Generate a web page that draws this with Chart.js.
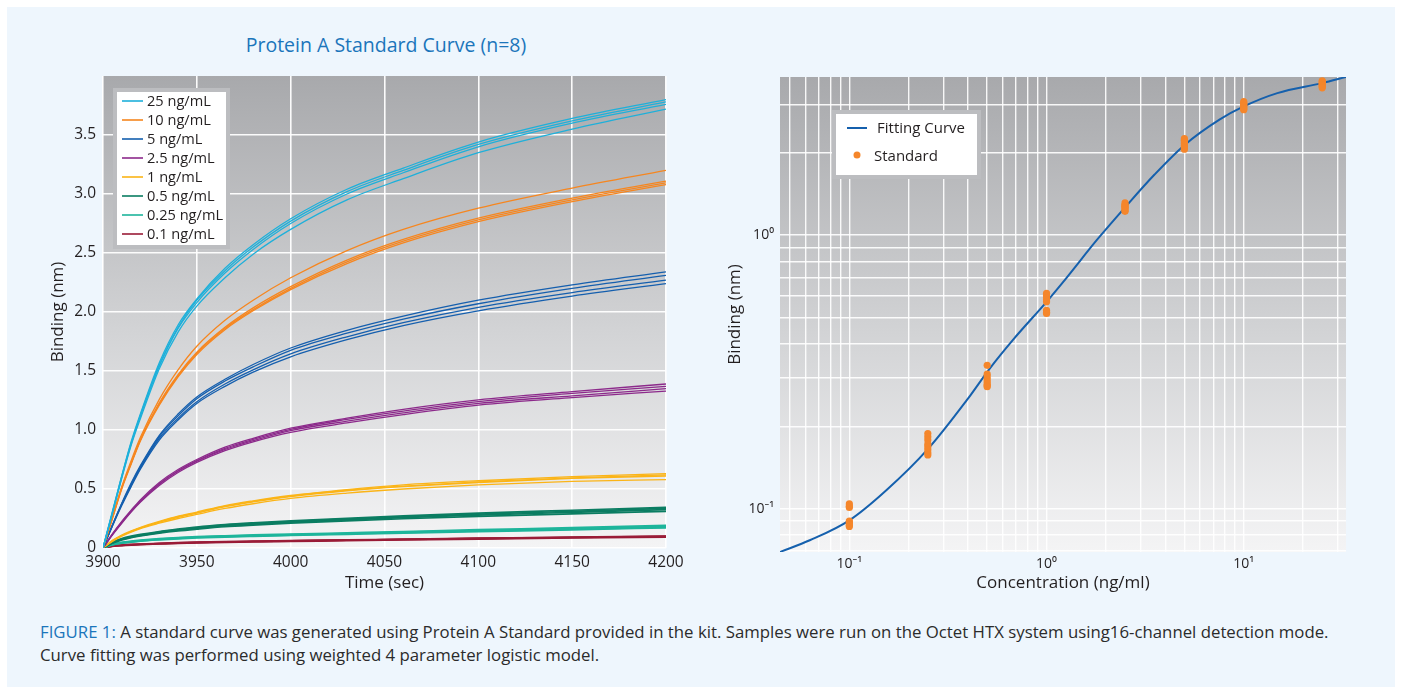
<!DOCTYPE html>
<html>
<head>
<meta charset="utf-8">
<script src="https://cdn.jsdelivr.net/npm/chart.js@4.4.1/dist/chart.umd.min.js"></script>
<style>
  html, body { margin: 0; padding: 0; background: #ffffff; }
  body { width: 1402px; height: 694px; position: relative; overflow: hidden; font-family: "Open Sans", "Noto Sans", sans-serif; }
  #panel { position: absolute; left: 7px; top: 7px; width: 1388px; height: 680px; background: #eef6fd; }
  canvas { position: absolute; top: 0; }
  #c1 { left: 0; }
  #c2 { left: 700px; }
  #title { position: absolute; left: 136px; width: 500px; top: 31px; text-align: center; font-size: 19.5px; line-height: 27px; color: #1b75bb; white-space: nowrap; }
  #caption { position: absolute; left: 40px; top: 620px; font-size: 16.8px; line-height: 23px; color: #2b2b2b; white-space: nowrap; }
  #caption span { color: #1b75bb; }
</style>
</head>
<body>
<div id="panel"></div>
<div id="title">Protein A Standard Curve (n=8)</div>
<canvas id="c1" width="700" height="610"></canvas>
<canvas id="c2" width="702" height="610"></canvas>
<div id="caption"><span>FIGURE 1:</span> A standard curve was generated using Protein A Standard provided in the kit. Samples were run on the Octet HTX system using16-channel detection mode.<br>Curve fitting was performed using weighted 4 parameter logistic model.</div>
<script>
// ---------------- Left chart data (binding vs time, 4 replicate traces per level) ----------------
const timePoints = [3900, 3905, 3910, 3915, 3920, 3930, 3940, 3950, 3965, 3980, 4000, 4030, 4060, 4100, 4150, 4200];
const levelLabels = ['25 ng/mL', '10 ng/mL', '5 ng/mL', '2.5 ng/mL', '1 ng/mL', '0.5 ng/mL', '0.25 ng/mL', '0.1 ng/mL'];
const levelColors = ['#1eb0da', '#f6861f', '#155fae', '#8c2a8b', '#fbb417', '#0b7d62', '#1eb59b', '#9a1c37'];

const reps25 = [
  [0, 0.31, 0.61, 0.90, 1.14, 1.57, 1.89, 2.11, 2.37, 2.57, 2.79, 3.04, 3.22, 3.44, 3.64, 3.80],
  [0, 0.30, 0.61, 0.89, 1.13, 1.55, 1.87, 2.10, 2.35, 2.55, 2.77, 3.02, 3.20, 3.42, 3.62, 3.78],
  [0, 0.30, 0.60, 0.88, 1.12, 1.54, 1.86, 2.08, 2.33, 2.53, 2.75, 3.00, 3.18, 3.40, 3.60, 3.76],
  [0, 0.29, 0.59, 0.87, 1.10, 1.52, 1.83, 2.05, 2.29, 2.49, 2.70, 2.95, 3.13, 3.35, 3.55, 3.72]
];
const reps10 = [
  [0, 0.26, 0.52, 0.74, 0.94, 1.26, 1.51, 1.71, 1.93, 2.10, 2.29, 2.52, 2.70, 2.88, 3.05, 3.20],
  [0, 0.26, 0.51, 0.72, 0.92, 1.23, 1.47, 1.66, 1.87, 2.035, 2.215, 2.44, 2.615, 2.795, 2.965, 3.11],
  [0, 0.25, 0.51, 0.72, 0.92, 1.22, 1.46, 1.65, 1.86, 2.02, 2.20, 2.425, 2.60, 2.78, 2.95, 3.095],
  [0, 0.25, 0.50, 0.71, 0.91, 1.21, 1.45, 1.64, 1.85, 2.01, 2.19, 2.41, 2.585, 2.765, 2.935, 3.08]
];
const reps5 = [
  [0, 0.195, 0.38, 0.55, 0.70, 0.955, 1.135, 1.28, 1.43, 1.555, 1.695, 1.845, 1.965, 2.10, 2.23, 2.34],
  [0, 0.19, 0.375, 0.54, 0.69, 0.945, 1.12, 1.265, 1.415, 1.535, 1.675, 1.82, 1.94, 2.07, 2.20, 2.31],
  [0, 0.19, 0.37, 0.53, 0.68, 0.93, 1.10, 1.24, 1.39, 1.51, 1.645, 1.79, 1.91, 2.04, 2.165, 2.27],
  [0, 0.185, 0.36, 0.52, 0.67, 0.915, 1.085, 1.225, 1.37, 1.49, 1.62, 1.765, 1.885, 2.01, 2.135, 2.24]
];
const reps2p5 = [
  [0, 0.12, 0.225, 0.32, 0.41, 0.555, 0.665, 0.75, 0.855, 0.93, 1.015, 1.10, 1.175, 1.255, 1.325, 1.39],
  [0, 0.115, 0.22, 0.315, 0.40, 0.545, 0.655, 0.74, 0.845, 0.92, 1.005, 1.09, 1.16, 1.24, 1.31, 1.37],
  [0, 0.115, 0.215, 0.31, 0.395, 0.54, 0.65, 0.735, 0.835, 0.91, 0.995, 1.075, 1.145, 1.225, 1.29, 1.35],
  [0, 0.11, 0.21, 0.305, 0.39, 0.53, 0.64, 0.725, 0.825, 0.90, 0.98, 1.06, 1.13, 1.21, 1.275, 1.33]
];
const reps1 = [
  [0, 0.065, 0.11, 0.145, 0.175, 0.225, 0.27, 0.305, 0.36, 0.40, 0.445, 0.495, 0.535, 0.57, 0.605, 0.63],
  [0, 0.06, 0.105, 0.14, 0.17, 0.22, 0.265, 0.30, 0.355, 0.395, 0.44, 0.49, 0.525, 0.56, 0.595, 0.62],
  [0, 0.06, 0.105, 0.14, 0.17, 0.22, 0.26, 0.295, 0.35, 0.39, 0.435, 0.485, 0.52, 0.555, 0.59, 0.61],
  [0, 0.055, 0.10, 0.135, 0.165, 0.21, 0.25, 0.285, 0.335, 0.375, 0.42, 0.465, 0.50, 0.535, 0.565, 0.58]
];
const reps0p5 = [
  [0, 0.05, 0.08, 0.10, 0.115, 0.14, 0.16, 0.178, 0.198, 0.213, 0.23, 0.252, 0.272, 0.295, 0.32, 0.345],
  [0, 0.045, 0.075, 0.095, 0.11, 0.135, 0.155, 0.172, 0.192, 0.207, 0.224, 0.245, 0.265, 0.287, 0.311, 0.335],
  [0, 0.045, 0.072, 0.092, 0.107, 0.131, 0.151, 0.167, 0.187, 0.202, 0.218, 0.238, 0.258, 0.279, 0.302, 0.325],
  [0, 0.04, 0.068, 0.088, 0.102, 0.126, 0.145, 0.16, 0.18, 0.194, 0.21, 0.23, 0.248, 0.268, 0.29, 0.31]
];
const reps0p25 = [
  [0, 0.033, 0.048, 0.058, 0.066, 0.079, 0.089, 0.096, 0.104, 0.111, 0.118, 0.129, 0.14, 0.155, 0.172, 0.192],
  [0, 0.03, 0.045, 0.055, 0.063, 0.075, 0.085, 0.092, 0.10, 0.106, 0.113, 0.123, 0.134, 0.148, 0.164, 0.183],
  [0, 0.028, 0.043, 0.053, 0.061, 0.073, 0.082, 0.089, 0.097, 0.103, 0.11, 0.12, 0.13, 0.144, 0.159, 0.177],
  [0, 0.026, 0.04, 0.05, 0.058, 0.069, 0.078, 0.085, 0.093, 0.099, 0.106, 0.116, 0.126, 0.139, 0.154, 0.171]
];
const reps0p1 = [
  [0, 0.018, 0.025, 0.030, 0.034, 0.040, 0.045, 0.049, 0.054, 0.058, 0.063, 0.069, 0.075, 0.083, 0.092, 0.101],
  [0, 0.016, 0.023, 0.028, 0.032, 0.038, 0.043, 0.047, 0.052, 0.056, 0.061, 0.067, 0.073, 0.081, 0.090, 0.099],
  [0, 0.015, 0.022, 0.027, 0.031, 0.037, 0.042, 0.046, 0.051, 0.055, 0.060, 0.066, 0.072, 0.080, 0.089, 0.097],
  [0, 0.013, 0.020, 0.025, 0.029, 0.034, 0.039, 0.043, 0.048, 0.052, 0.056, 0.062, 0.068, 0.076, 0.085, 0.093]
];
const levelReps = [reps25, reps10, reps5, reps2p5, reps1, reps0p5, reps0p25, reps0p1];
const leftXTicks = [3900, 3950, 4000, 4050, 4100, 4150, 4200];
const leftYTicks = [0, 0.5, 1.0, 1.5, 2.0, 2.5, 3.0, 3.5];

// ---------------- Right chart data (standard curve) ----------------
const fitConc = [0.0445, 0.063, 0.1, 0.154, 0.252, 0.394, 0.515, 0.674, 1.0, 1.26, 1.80, 2.52, 3.52, 5.0, 7.53, 10, 14.8, 25, 33];
const fitBinding = [0.0694, 0.0766, 0.0906, 0.1167, 0.166, 0.249, 0.325, 0.413, 0.570, 0.696, 0.959, 1.27, 1.66, 2.13, 2.64, 2.95, 3.30, 3.59, 3.78];
const stdConc = [0.1, 0.25, 0.5, 1, 2.5, 5, 10, 25];
const stdReps = [
  [0.104, 0.102, 0.101, 0.090, 0.089, 0.088, 0.087, 0.086],
  [0.188, 0.183, 0.178, 0.172, 0.168, 0.164, 0.160, 0.157],
  [0.334, 0.310, 0.303, 0.296, 0.290, 0.285, 0.281, 0.279],
  [0.612, 0.600, 0.590, 0.580, 0.570, 0.530, 0.522, 0.517],
  [1.31, 1.29, 1.28, 1.27, 1.26, 1.25, 1.23, 1.22],
  [2.25, 2.22, 2.19, 2.16, 2.13, 2.10, 2.08, 2.06],
  [3.07, 3.04, 3.01, 2.98, 2.95, 2.92, 2.89, 2.87],
  [3.66, 3.63, 3.60, 3.57, 3.54, 3.51, 3.48, 3.45]
];
const rightXGrid = [0.05, 0.06, 0.07, 0.08, 0.09, 0.1, 0.2, 0.3, 0.4, 0.5, 0.6, 0.7, 0.8, 0.9, 1, 2, 3, 4, 5, 6, 7, 8, 9, 10, 20, 30];
const rightYGrid = [0.07, 0.08, 0.09, 0.1, 0.2, 0.3, 0.4, 0.5, 0.6, 0.7, 0.8, 0.9, 1, 2, 3];
const decadeVals = [0.1, 1, 10];
const decadeLabels = ['10\u207B\u00B9', '10\u2070', '10\u00B9'];

// ---------------- Shared styling ----------------
const FONT = '"Open Sans", "Noto Sans", sans-serif';
const TXT = '#231f20';
Chart.defaults.font.family = FONT;
Chart.defaults.color = TXT;
Chart.defaults.animation = false;

const bgPlugin = {
  id: 'plotBg',
  beforeDraw(chart) {
    const a = chart.chartArea, ctx = chart.ctx;
    const g = ctx.createLinearGradient(0, a.top, 0, a.bottom);
    g.addColorStop(0, '#a8a9ac');
    g.addColorStop(0.55, '#d3d4d6');
    g.addColorStop(1, '#f4f4f5');
    ctx.save();
    ctx.fillStyle = g;
    ctx.fillRect(a.left, a.top, a.right - a.left, a.bottom - a.top);
    ctx.restore();
  }
};

function near(a, b) { return Math.abs(a - b) < 1e-9 * Math.max(1, Math.abs(b)); }

// ---------------- Left chart ----------------
const leftDatasets = [];
levelReps.forEach((reps, li) => {
  reps.forEach((vals, ri) => {
    leftDatasets.push({
      label: levelLabels[li],
      legendItem: ri === 0,
      data: vals.map((v, i) => ({ x: timePoints[i], y: v })),
      borderColor: levelColors[li],
      borderWidth: li >= 5 ? 1.7 : 1.3,
      pointRadius: 0,
      cubicInterpolationMode: 'monotone',
      fill: false
    });
  });
});

const leftLegend = {
  id: 'leftLegend',
  afterDatasetsDraw(chart) {
    const ctx = chart.ctx;
    const items = chart.data.datasets.filter(d => d.legendItem);
    const bx = 115, by = 90, bw = 113, bh = 157;
    ctx.save();
    ctx.fillStyle = '#ffffff';
    ctx.fillRect(bx, by, bw, bh);
    ctx.strokeStyle = '#bcbdc0';
    ctx.lineWidth = 4;
    ctx.strokeRect(bx, by, bw, bh);
    ctx.font = '14.6px ' + FONT;
    ctx.textBaseline = 'middle';
    ctx.fillStyle = TXT;
    items.forEach((d, i) => {
      const y = 101 + i * 19;
      ctx.strokeStyle = d.borderColor;
      ctx.lineWidth = 1.6;
      ctx.beginPath(); ctx.moveTo(122, y); ctx.lineTo(143, y); ctx.stroke();
      ctx.fillText(d.label, 147, y + 0.5);
    });
    ctx.restore();
  }
};

new Chart(document.getElementById('c1'), {
  type: 'line',
  data: { datasets: leftDatasets },
  options: {
    responsive: false,
    devicePixelRatio: 1,
    layout: { padding: { top: 76, right: 34, left: 0, bottom: 0 } },
    plugins: { legend: { display: false }, tooltip: { enabled: false }, title: { display: false } },
    scales: {
      x: {
        type: 'linear', min: 3900, max: 4200,
        afterBuildTicks: s => { s.ticks = leftXTicks.map(v => ({ value: v })); },
        afterFit: s => { s.height = 62; },
        ticks: { font: { size: 15.5 }, color: TXT, padding: 5, maxRotation: 0, autoSkip: false, callback: v => String(v) },
        grid: { color: 'rgba(255,255,255,0.95)', lineWidth: 1.6, drawTicks: false },
        border: { display: false },
        title: { display: true, text: 'Time (sec)', font: { size: 17 }, color: TXT, padding: { top: 0, bottom: 17 } }
      },
      y: {
        type: 'linear', min: 0, max: 4,
        afterBuildTicks: s => { s.ticks = leftYTicks.concat([4]).map(v => ({ value: v })); },
        afterFit: s => { s.width = 103; },
        ticks: {
          font: { size: 15.5 }, color: TXT, padding: 7, autoSkip: false,
          callback: v => (v === 0 ? '0' : (leftYTicks.some(t => near(t, v)) ? v.toFixed(1) : ''))
        },
        grid: { color: c => (c.tick && c.tick.value >= 4 ? 'rgba(0,0,0,0)' : 'rgba(255,255,255,0.95)'), lineWidth: 1.6, drawTicks: false },
        border: { display: false },
        title: { display: true, text: 'Binding (nm)', font: { size: 17 }, color: TXT, padding: { top: 48, bottom: 0 } }
      }
    }
  },
  plugins: [bgPlugin, leftLegend]
});

// ---------------- Right chart ----------------
const stdPoints = [];
stdConc.forEach((c, i) => stdReps[i].forEach(v => stdPoints.push({ x: c, y: v })));

const rightLegend = {
  id: 'rightLegend',
  afterDatasetsDraw(chart) {
    const ctx = chart.ctx;
    const [pts, fit] = chart.data.datasets;
    const bx = 134, by = 112, bw = 145, bh = 65;
    ctx.save();
    ctx.fillStyle = '#ffffff';
    ctx.fillRect(bx, by, bw, bh);
    ctx.strokeStyle = '#bcbdc0';
    ctx.lineWidth = 4;
    ctx.strokeRect(bx, by, bw, bh);
    ctx.font = '15px ' + FONT;
    ctx.textBaseline = 'middle';
    ctx.fillStyle = TXT;
    ctx.strokeStyle = fit.borderColor;
    ctx.lineWidth = 2;
    ctx.beginPath(); ctx.moveTo(147, 128); ctx.lineTo(167, 128); ctx.stroke();
    ctx.fillText(fit.label, 177, 129);
    ctx.fillStyle = pts.backgroundColor;
    ctx.beginPath(); ctx.arc(157, 155, 3.5, 0, Math.PI * 2); ctx.fill();
    ctx.fillStyle = TXT;
    ctx.fillText(pts.label, 174, 157);
    ctx.restore();
  }
};

new Chart(document.getElementById('c2'), {
  type: 'scatter',
  data: {
    datasets: [
      {
        label: 'Standard', type: 'scatter', data: stdPoints,
        backgroundColor: '#f5862b', borderWidth: 0, pointRadius: 3.6, pointHoverRadius: 3.6
      },
      {
        label: 'Fitting Curve', type: 'line',
        data: fitConc.map((c, i) => ({ x: c, y: fitBinding[i] })),
        borderColor: '#1560ad', borderWidth: 2, pointRadius: 0, fill: false,
        cubicInterpolationMode: 'monotone'
      }
    ]
  },
  options: {
    responsive: false,
    devicePixelRatio: 1,
    layout: { padding: { top: 77, right: 56, left: 0, bottom: 0 } },
    plugins: { legend: { display: false }, tooltip: { enabled: false } },
    scales: {
      x: {
        type: 'logarithmic', min: 0.0445, max: 33,
        afterBuildTicks: s => { s.ticks = rightXGrid.map(v => ({ value: v })); },
        afterFit: s => { s.height = 58; },
        ticks: {
          font: { size: 14 }, color: TXT, padding: 4, maxRotation: 0, autoSkip: false,
          callback: v => { const k = decadeVals.findIndex(d => near(d, v)); return k >= 0 ? decadeLabels[k] : ''; }
        },
        grid: { color: 'rgba(255,255,255,0.9)', lineWidth: 1.4, drawTicks: false },
        border: { display: false },
        title: { display: true, text: 'Concentration (ng/ml)', font: { size: 17 }, color: TXT, padding: { top: 0, bottom: 17 } }
      },
      y: {
        type: 'logarithmic', min: 0.0694, max: 3.78,
        afterBuildTicks: s => { s.ticks = rightYGrid.map(v => ({ value: v })); },
        afterFit: s => { s.width = 80; },
        ticks: {
          font: { size: 14 }, color: TXT, padding: 6, autoSkip: false,
          callback: v => { const k = decadeVals.findIndex(d => near(d, v)); return k >= 0 ? decadeLabels[k] : ''; }
        },
        grid: { color: 'rgba(255,255,255,0.9)', lineWidth: 1.4, drawTicks: false },
        border: { display: false },
        title: { display: true, text: 'Binding (nm)', font: { size: 17 }, color: TXT, padding: { top: 25, bottom: 0 } }
      }
    }
  },
  plugins: [bgPlugin, rightLegend]
});
</script>
</body>
</html>
